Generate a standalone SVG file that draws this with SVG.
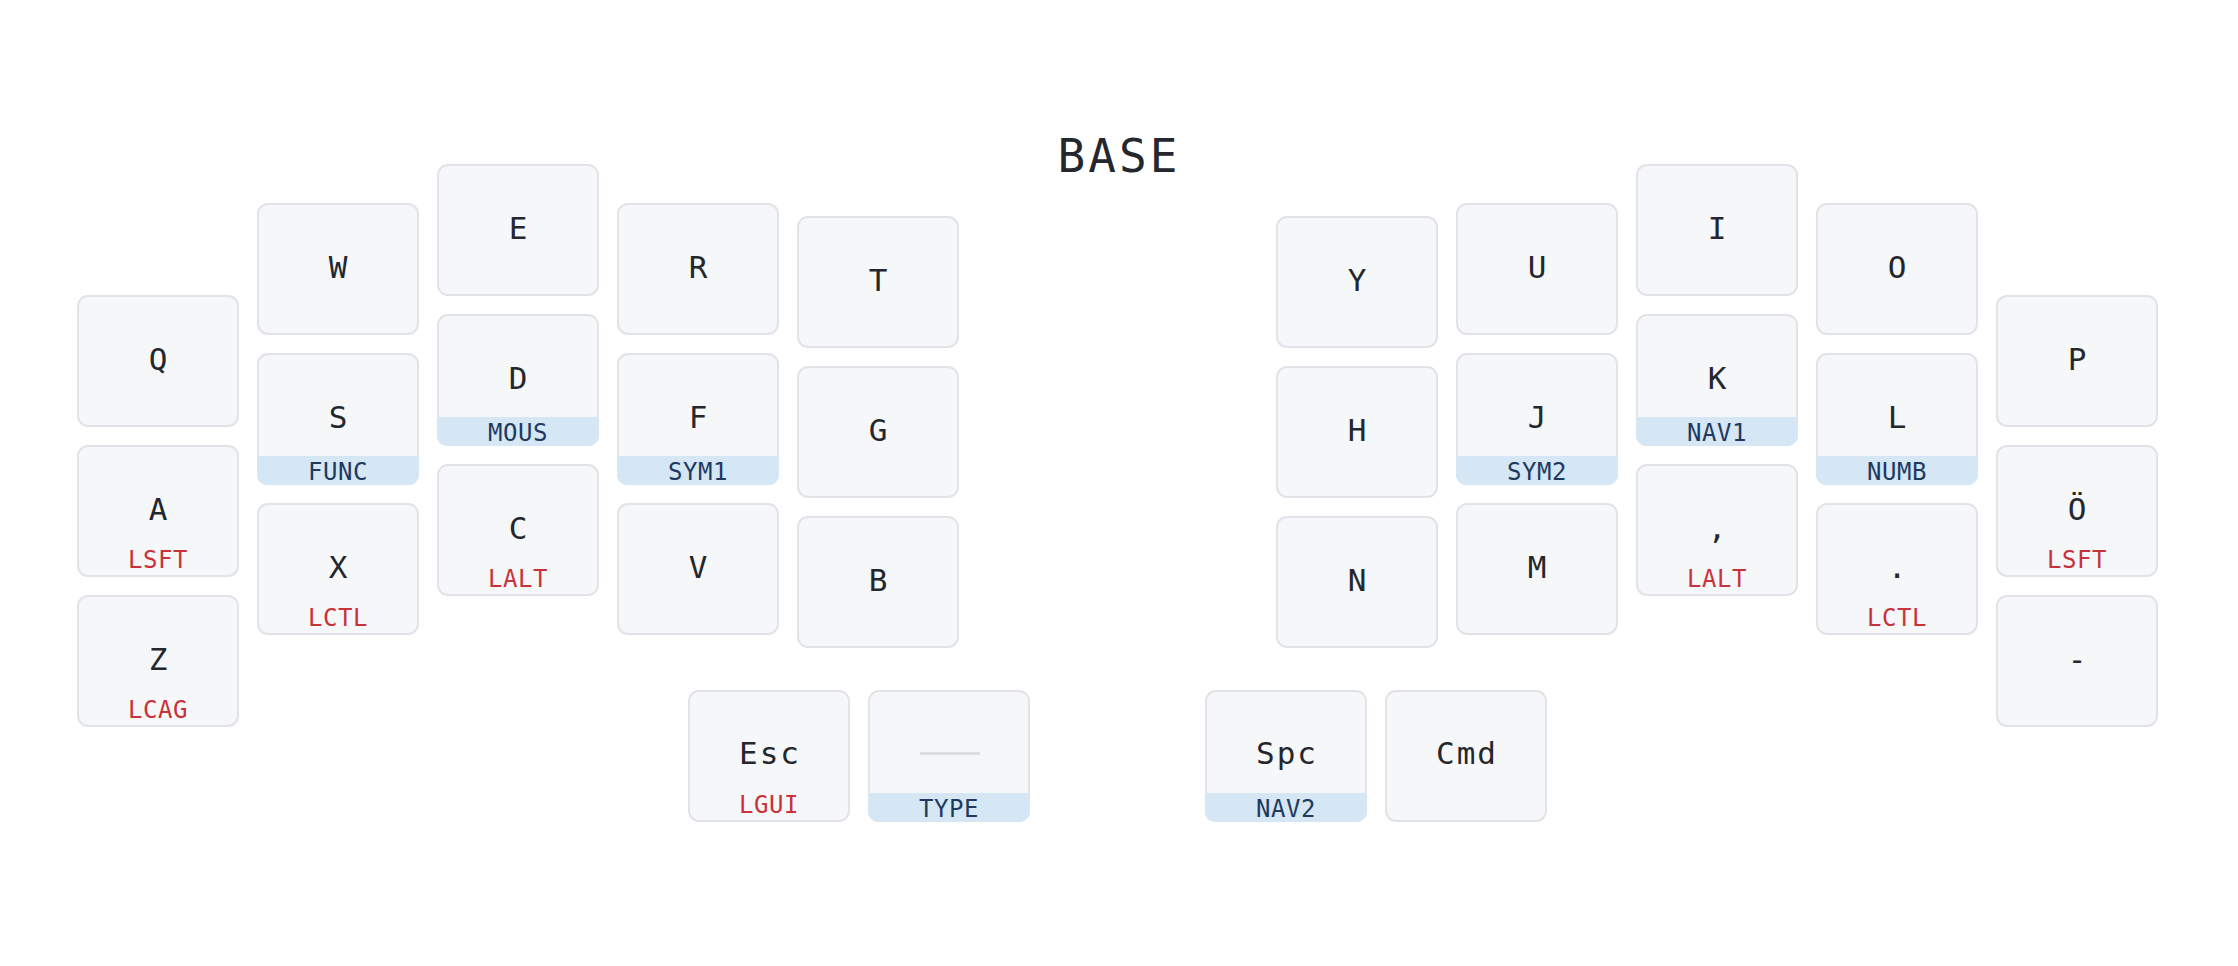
<svg xmlns="http://www.w3.org/2000/svg" width="2238" height="966" viewBox="0 0 2238 966">
<style>
.bg{fill:#ffffff}
.key{fill:#f6f7f9;stroke:#e1e3e8;stroke-width:2}
.band{fill:#d5e6f5}
.tap{font-family:"DejaVu Sans Mono","Liberation Mono",monospace;font-size:31px;fill:#24272d;text-anchor:middle;letter-spacing:2px}
.hold{font-family:"DejaVu Sans Mono","Liberation Mono",monospace;font-size:24px;fill:#c8323a;text-anchor:middle;letter-spacing:0.5px}
.layer{font-family:"DejaVu Sans Mono","Liberation Mono",monospace;font-size:24px;fill:#1e3a5f;text-anchor:middle;letter-spacing:0.5px}
.title{font-family:"DejaVu Sans Mono","Liberation Mono",monospace;font-size:46px;fill:#24272d;text-anchor:middle;letter-spacing:3px}
.trans{fill:#dcdddf}
</style>
<defs>
<path id="bandShape" d="M-1,102 H161 V121 A10,10 0 0 1 151,131 H9 A10,10 0 0 1 -1,121 Z"/>
</defs>
<rect class="bg" x="0" y="0" width="2238" height="966"/>
<g id="title"><text class="title" x="1119" y="172">BASE</text></g>
<g id="connectors"></g>

<g id="key-q" transform="translate(78,296)"><rect class="key" width="160" height="130" rx="10"/><text class="tap" x="81" y="74">Q</text></g>
<g id="key-a" transform="translate(78,446)"><rect class="key" width="160" height="130" rx="10"/><text class="tap" x="81" y="74">A</text><text class="hold" x="80" y="122">LSFT</text></g>
<g id="key-z" transform="translate(78,596)"><rect class="key" width="160" height="130" rx="10"/><text class="tap" x="81" y="74">Z</text><text class="hold" x="80" y="122">LCAG</text></g>

<g id="key-w" transform="translate(258,204)"><rect class="key" width="160" height="130" rx="10"/><text class="tap" x="81" y="74">W</text></g>
<g id="key-s" transform="translate(258,354)"><rect class="key" width="160" height="130" rx="10"/><use href="#bandShape" class="band"/><text class="tap" x="81" y="74">S</text><text class="layer" x="80" y="126">FUNC</text></g>
<g id="key-x" transform="translate(258,504)"><rect class="key" width="160" height="130" rx="10"/><text class="tap" x="81" y="74">X</text><text class="hold" x="80" y="122">LCTL</text></g>

<g id="key-e" transform="translate(438,165)"><rect class="key" width="160" height="130" rx="10"/><text class="tap" x="81" y="74">E</text></g>
<g id="key-d" transform="translate(438,315)"><rect class="key" width="160" height="130" rx="10"/><use href="#bandShape" class="band"/><text class="tap" x="81" y="74">D</text><text class="layer" x="80" y="126">MOUS</text></g>
<g id="key-c" transform="translate(438,465)"><rect class="key" width="160" height="130" rx="10"/><text class="tap" x="81" y="74">C</text><text class="hold" x="80" y="122">LALT</text></g>

<g id="key-r" transform="translate(618,204)"><rect class="key" width="160" height="130" rx="10"/><text class="tap" x="81" y="74">R</text></g>
<g id="key-f" transform="translate(618,354)"><rect class="key" width="160" height="130" rx="10"/><use href="#bandShape" class="band"/><text class="tap" x="81" y="74">F</text><text class="layer" x="80" y="126">SYM1</text></g>
<g id="key-v" transform="translate(618,504)"><rect class="key" width="160" height="130" rx="10"/><text class="tap" x="81" y="74">V</text></g>

<g id="key-t" transform="translate(798,217)"><rect class="key" width="160" height="130" rx="10"/><text class="tap" x="81" y="74">T</text></g>
<g id="key-g" transform="translate(798,367)"><rect class="key" width="160" height="130" rx="10"/><text class="tap" x="81" y="74">G</text></g>
<g id="key-b" transform="translate(798,517)"><rect class="key" width="160" height="130" rx="10"/><text class="tap" x="81" y="74">B</text></g>

<g id="key-y" transform="translate(1277,217)"><rect class="key" width="160" height="130" rx="10"/><text class="tap" x="81" y="74">Y</text></g>
<g id="key-h" transform="translate(1277,367)"><rect class="key" width="160" height="130" rx="10"/><text class="tap" x="81" y="74">H</text></g>
<g id="key-n" transform="translate(1277,517)"><rect class="key" width="160" height="130" rx="10"/><text class="tap" x="81" y="74">N</text></g>

<g id="key-u" transform="translate(1457,204)"><rect class="key" width="160" height="130" rx="10"/><text class="tap" x="81" y="74">U</text></g>
<g id="key-j" transform="translate(1457,354)"><rect class="key" width="160" height="130" rx="10"/><use href="#bandShape" class="band"/><text class="tap" x="81" y="74">J</text><text class="layer" x="80" y="126">SYM2</text></g>
<g id="key-m" transform="translate(1457,504)"><rect class="key" width="160" height="130" rx="10"/><text class="tap" x="81" y="74">M</text></g>

<g id="key-i" transform="translate(1637,165)"><rect class="key" width="160" height="130" rx="10"/><text class="tap" x="81" y="74">I</text></g>
<g id="key-k" transform="translate(1637,315)"><rect class="key" width="160" height="130" rx="10"/><use href="#bandShape" class="band"/><text class="tap" x="81" y="74">K</text><text class="layer" x="80" y="126">NAV1</text></g>
<g id="key-comma" transform="translate(1637,465)"><rect class="key" width="160" height="130" rx="10"/><text class="tap" x="81" y="74">,</text><text class="hold" x="80" y="122">LALT</text></g>

<g id="key-o" transform="translate(1817,204)"><rect class="key" width="160" height="130" rx="10"/><text class="tap" x="81" y="74">O</text></g>
<g id="key-l" transform="translate(1817,354)"><rect class="key" width="160" height="130" rx="10"/><use href="#bandShape" class="band"/><text class="tap" x="81" y="74">L</text><text class="layer" x="80" y="126">NUMB</text></g>
<g id="key-dot" transform="translate(1817,504)"><rect class="key" width="160" height="130" rx="10"/><text class="tap" x="81" y="74">.</text><text class="hold" x="80" y="122">LCTL</text></g>

<g id="key-p" transform="translate(1997,296)"><rect class="key" width="160" height="130" rx="10"/><text class="tap" x="81" y="74">P</text></g>
<g id="key-oe" transform="translate(1997,446)"><rect class="key" width="160" height="130" rx="10"/><text class="tap" x="81" y="74">Ö</text><text class="hold" x="80" y="122">LSFT</text></g>
<g id="key-minus" transform="translate(1997,596)"><rect class="key" width="160" height="130" rx="10"/><text class="tap" x="81" y="74">-</text></g>

<g id="key-esc" transform="translate(689,691)"><rect class="key" width="160" height="130" rx="10"/><text class="tap" x="81" y="73">Esc</text><text class="hold" x="80" y="122">LGUI</text></g>
<g id="key-type" transform="translate(869,691)"><rect class="key" width="160" height="130" rx="10"/><use href="#bandShape" class="band"/><rect class="trans" x="51" y="61" width="60" height="3"/><text class="layer" x="80" y="126">TYPE</text></g>
<g id="key-spc" transform="translate(1206,691)"><rect class="key" width="160" height="130" rx="10"/><use href="#bandShape" class="band"/><text class="tap" x="81" y="73">Spc</text><text class="layer" x="80" y="126">NAV2</text></g>
<g id="key-cmd" transform="translate(1386,691)"><rect class="key" width="160" height="130" rx="10"/><text class="tap" x="81" y="73">Cmd</text></g>
</svg>
